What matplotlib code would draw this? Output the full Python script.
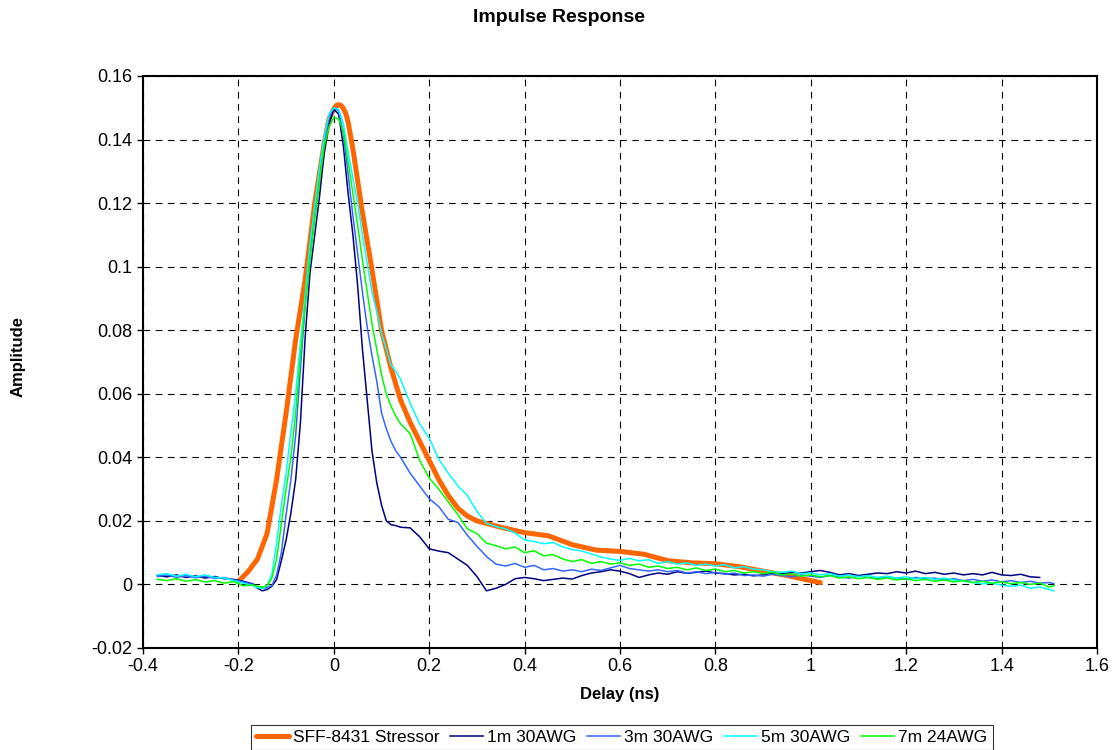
import matplotlib
matplotlib.use("Agg")
import matplotlib.pyplot as plt
import numpy as np

plt.rcParams['font.family'] = ['Liberation Sans', 'DejaVu Sans']

# SFF-8431 stressor (smooth reference curve)
stressor_x = [-0.20, -0.18, -0.16, -0.14, -0.12, -0.10, -0.08, -0.06, -0.04, -0.02,
              -0.01, 0.00, 0.005, 0.01, 0.015, 0.02, 0.025, 0.03, 0.04, 0.05,
              0.06, 0.08, 0.10, 0.12, 0.14,
              0.16, 0.18, 0.20, 0.22, 0.24, 0.26, 0.28, 0.30, 0.35, 0.40,
              0.45, 0.50, 0.55, 0.60, 0.65, 0.70, 0.75, 0.80, 0.85, 0.90,
              0.95, 1.00, 1.02]
stressor_y = [0.0010, 0.0040, 0.0080, 0.0160, 0.0330, 0.0540, 0.0770, 0.0960, 0.1200, 0.1390,
              0.1465, 0.1497, 0.1507, 0.1510, 0.1507, 0.1498, 0.1482, 0.1455, 0.1370, 0.1270,
              0.1170, 0.0990, 0.0800, 0.0680, 0.0580,
              0.0510, 0.0450, 0.0390, 0.0330, 0.0280, 0.0240, 0.0215, 0.0200, 0.0180, 0.0163,
              0.0153, 0.0125, 0.0108, 0.0104, 0.0095, 0.0075, 0.0068, 0.0065, 0.0056, 0.0042,
              0.0028, 0.0012, 0.0006]

# shared delay samples for the cable measurements (ns)
delay = [-0.37, -0.35, -0.33, -0.31, -0.29, -0.27, -0.25, -0.23, -0.21, -0.19, -0.17,
         -0.16, -0.15, -0.14, -0.13, -0.12, -0.11, -0.10, -0.09, -0.08, -0.07,
         -0.06, -0.05, -0.04, -0.03, -0.02, -0.01, 0.00, 0.01, 0.02, 0.03,
         0.04, 0.05, 0.06, 0.07, 0.08, 0.09, 0.10, 0.11, 0.12, 0.13, 0.14,
         0.16, 0.18, 0.20, 0.22, 0.24, 0.26, 0.28, 0.30, 0.32, 0.34,
         0.36, 0.38, 0.40, 0.42, 0.44, 0.46, 0.48, 0.50, 0.52, 0.54,
         0.56, 0.58, 0.60, 0.62, 0.64, 0.66, 0.68, 0.70, 0.72, 0.74,
         0.76, 0.78, 0.80, 0.82, 0.84, 0.86, 0.88, 0.90, 0.92, 0.94,
         0.96, 0.98, 1.00, 1.02, 1.04, 1.06, 1.08, 1.10, 1.12, 1.14,
         1.16, 1.18, 1.20, 1.22, 1.24, 1.26, 1.28, 1.30, 1.32, 1.34,
         1.36, 1.38, 1.40, 1.42, 1.44, 1.46, 1.48, 1.50, 1.51]

m1_30awg = [0.0028, 0.0024, 0.0030, 0.0022, 0.0027, 0.0020, 0.0025, 0.0018, 0.0016, 0.0010, 0.0002,
            -0.0012, -0.0020, -0.0016, -0.0006, 0.0015, 0.0075, 0.0140, 0.0225, 0.0330, 0.0510,
            0.0780, 0.0980, 0.1100, 0.1220, 0.1360, 0.1450, 0.1495, 0.1480, 0.1380, 0.1230,
            0.1100, 0.0940, 0.0740, 0.0580, 0.0420, 0.0320, 0.0250, 0.0200, 0.0188, 0.0185, 0.0180,
            0.0178, 0.0150, 0.0112, 0.0105, 0.0100, 0.0080, 0.0060, 0.0025, -0.0020, -0.0012,
            0.0000, 0.0018, 0.0022, 0.0018, 0.0012, 0.0016, 0.0020, 0.0017, 0.0028, 0.0036,
            0.0040, 0.0046, 0.0042, 0.0034, 0.0022, 0.0030, 0.0036, 0.0032, 0.0040, 0.0035,
            0.0038, 0.0042, 0.0036, 0.0034, 0.0030, 0.0032, 0.0027, 0.0030, 0.0036, 0.0033,
            0.0038, 0.0036, 0.0040, 0.0044, 0.0038, 0.0030, 0.0034, 0.0028, 0.0032, 0.0036,
            0.0034, 0.0040, 0.0036, 0.0042, 0.0034, 0.0038, 0.0032, 0.0036, 0.0030, 0.0034,
            0.0030, 0.0038, 0.0030, 0.0028, 0.0032, 0.0024, 0.0022, np.nan, np.nan]

m3_30awg = [0.0025, 0.0030, 0.0022, 0.0028, 0.0021, 0.0026, 0.0019, 0.0022, 0.0014, 0.0008, 0.0000,
            -0.0008, -0.0012, -0.0010, -0.0004, 0.0030, 0.0100, 0.0220, 0.0330, 0.0470, 0.0680,
            0.0880, 0.1040, 0.1170, 0.1280, 0.1390, 0.1470, 0.1500, 0.1490, 0.1420, 0.1290,
            0.1160, 0.1040, 0.0920, 0.0810, 0.0720, 0.0640, 0.0540, 0.0490, 0.0450, 0.0420, 0.0400,
            0.0350, 0.0310, 0.0270, 0.0245, 0.0205, 0.0195, 0.0155, 0.0120, 0.0088, 0.0064,
            0.0058, 0.0066, 0.0054, 0.0060, 0.0046, 0.0050, 0.0042, 0.0046, 0.0040, 0.0048,
            0.0044, 0.0052, 0.0060, 0.0050, 0.0046, 0.0042, 0.0046, 0.0040, 0.0044, 0.0036,
            0.0040, 0.0034, 0.0038, 0.0032, 0.0036, 0.0028, 0.0030, 0.0026, 0.0032, 0.0028,
            0.0024, 0.0030, 0.0026, 0.0022, 0.0028, 0.0024, 0.0020, 0.0026, 0.0022, 0.0018,
            0.0024, 0.0020, 0.0016, 0.0022, 0.0018, 0.0020, 0.0014, 0.0018, 0.0012, 0.0016,
            0.0010, 0.0014, 0.0008, 0.0012, 0.0006, 0.0010, 0.0004, 0.0006, 0.0002]

m5_30awg = [0.0030, 0.0034, 0.0026, 0.0032, 0.0024, 0.0030, 0.0022, 0.0020, 0.0012, 0.0004, -0.0004,
            -0.0010, -0.0012, -0.0004, 0.0030, 0.0130, 0.0250, 0.0350, 0.0480, 0.0600, 0.0760,
            0.0910, 0.1070, 0.1190, 0.1310, 0.1410, 0.1480, 0.1500, 0.1495, 0.1450, 0.1360,
            0.1280, 0.1200, 0.1100, 0.1010, 0.0920, 0.0860, 0.0790, 0.0740, 0.0690, 0.0670, 0.0645,
            0.0570, 0.0505, 0.0460, 0.0395, 0.0350, 0.0310, 0.0280, 0.0230, 0.0192, 0.0182,
            0.0175, 0.0162, 0.0140, 0.0135, 0.0128, 0.0132, 0.0118, 0.0110, 0.0105, 0.0096,
            0.0086, 0.0080, 0.0076, 0.0082, 0.0074, 0.0078, 0.0066, 0.0072, 0.0064, 0.0068,
            0.0060, 0.0064, 0.0058, 0.0062, 0.0052, 0.0056, 0.0048, 0.0046, 0.0040, 0.0038,
            0.0042, 0.0034, 0.0036, 0.0030, 0.0034, 0.0026, 0.0030, 0.0024, 0.0028, 0.0022,
            0.0026, 0.0020, 0.0024, 0.0018, 0.0022, 0.0016, 0.0020, 0.0014, 0.0010, 0.0006,
            0.0002, 0.0004, -0.0002, -0.0006, -0.0002, -0.0012, -0.0008, -0.0016, -0.0020]

m7_24awg = [0.0016, 0.0012, 0.0018, 0.0010, 0.0015, 0.0008, 0.0012, 0.0004, 0.0009, -0.0004, -0.0002,
            -0.0006, -0.0008, -0.0004, 0.0020, 0.0080, 0.0190, 0.0300, 0.0400, 0.0540, 0.0720,
            0.0880, 0.1020, 0.1150, 0.1270, 0.1380, 0.1440, 0.1470, 0.1465, 0.1425, 0.1330,
            0.1230, 0.1130, 0.1020, 0.0920, 0.0820, 0.0740, 0.0660, 0.0600, 0.0560, 0.0530, 0.0505,
            0.0475, 0.0390, 0.0335, 0.0300, 0.0260, 0.0220, 0.0175, 0.0160, 0.0130, 0.0122,
            0.0112, 0.0118, 0.0100, 0.0106, 0.0090, 0.0094, 0.0080, 0.0072, 0.0078, 0.0066,
            0.0072, 0.0064, 0.0068, 0.0060, 0.0064, 0.0054, 0.0058, 0.0050, 0.0054, 0.0046,
            0.0052, 0.0044, 0.0048, 0.0040, 0.0044, 0.0036, 0.0040, 0.0034, 0.0038, 0.0030,
            0.0034, 0.0026, 0.0030, 0.0024, 0.0028, 0.0020, 0.0024, 0.0018, 0.0022, 0.0016,
            0.0020, 0.0014, 0.0018, 0.0012, 0.0016, 0.0010, 0.0014, 0.0008, 0.0012, 0.0006,
            0.0010, 0.0004, 0.0008, 0.0002, 0.0006, 0.0000, 0.0004, -0.0008, -0.0004]

x_ticks = [-0.4, -0.2, 0, 0.2, 0.4, 0.6, 0.8, 1, 1.2, 1.4, 1.6]
y_ticks = [-0.02, 0, 0.02, 0.04, 0.06, 0.08, 0.1, 0.12, 0.14, 0.16]

fig = plt.figure(figsize=(11.14, 7.5), dpi=100)
ax = fig.add_axes([0.1284, 0.136, 0.8563, 0.7627])

ax.plot(stressor_x, stressor_y, color='#FF6600', lw=3.6, label='SFF-8431 Stressor',
        solid_capstyle='round')
ax.plot(delay, m1_30awg, color='#000080', lw=1.1, label='1m 30AWG')
ax.plot(delay, m3_30awg, color='#3366FF', lw=1.1, label='3m 30AWG')
ax.plot(delay, m5_30awg, color='#00FFFF', lw=1.1, label='5m 30AWG')
ax.plot(delay, m7_24awg, color='#00FF00', lw=1.1, label='7m 24AWG')

ax.set_xlim(-0.4, 1.6)
ax.set_ylim(-0.02, 0.16)
ax.set_xticks(x_ticks)
ax.set_yticks(y_ticks)
ax.set_xticklabels(['%g' % v for v in x_ticks])
ax.set_yticklabels(['%g' % v for v in y_ticks])
ax.tick_params(direction='out', length=4, width=1, labelsize=13, color='black')
ax.grid(True, color='black', linestyle=(0, (6, 5)), linewidth=0.8)
ax.set_axisbelow(True)
for sp in ax.spines.values():
    sp.set_linewidth(1.5)
    sp.set_color('black')

fig.text(0.502, 0.976, 'Impulse Response', ha='center', va='center',
         fontsize=14, fontweight='bold')
ax.set_xlabel('Delay (ns)', fontsize=12, fontweight='bold', labelpad=8)
fig.text(0.016, 0.525, 'Amplitude', rotation=90, ha='center', va='center',
         fontsize=12, fontweight='bold')

leg = fig.legend(loc='lower center', bbox_to_anchor=(0.558, -0.012), ncol=5,
                 frameon=True, fancybox=False, fontsize=12.5, handlelength=1.9,
                 handletextpad=0.25, columnspacing=0.6, borderpad=0.3)
leg.get_frame().set_edgecolor('black')
leg.get_frame().set_linewidth(0.8)

fig.savefig('out.png', dpi=100)
